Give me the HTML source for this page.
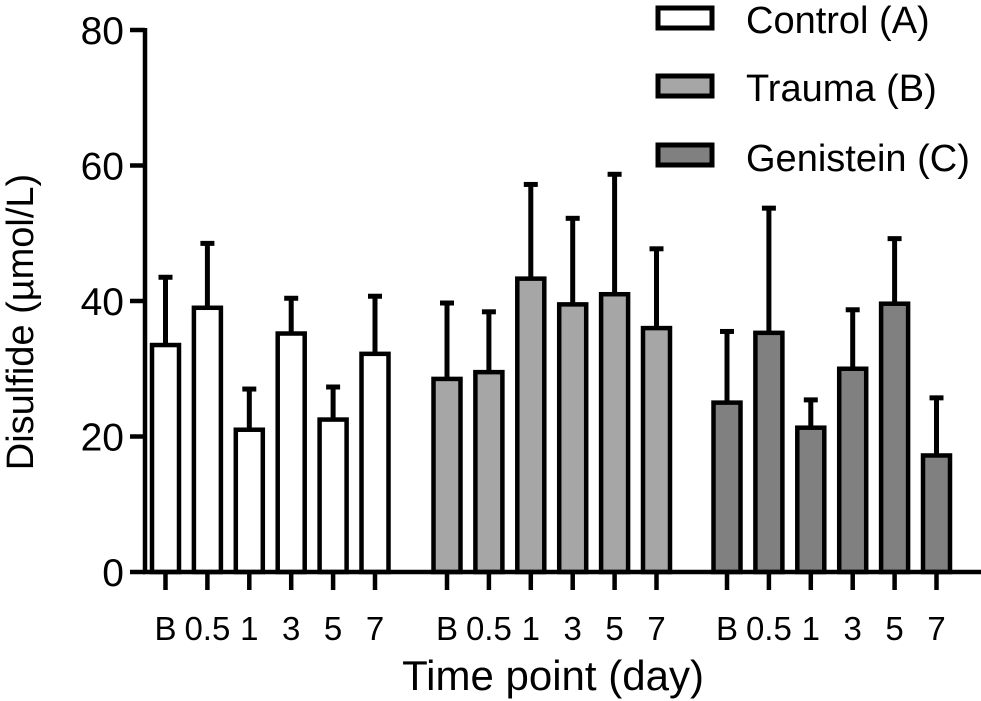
<!DOCTYPE html>
<html><head><meta charset="utf-8"><style>
body{margin:0;background:#fff}
svg{display:block;font-family:"Liberation Sans",sans-serif}
</style></head><body>
<svg id="chart" width="981" height="701" viewBox="0 0 981 701">
<g id="plot"></g>
<g>
 <rect x="658" y="8" width="54" height="20" fill="#fff" stroke="#000" stroke-width="5"/>
 <text x="746" y="33" font-size="38">Control (A)</text>
 <rect x="658" y="76" width="54" height="20" fill="#a6a6a6" stroke="#000" stroke-width="5"/>
 <text x="746" y="101" font-size="38">Trauma (B)</text>
 <rect x="658" y="145" width="54" height="20" fill="#808080" stroke="#000" stroke-width="5"/>
 <text x="746" y="171" font-size="38">Genistein (C)</text>
</g>
<text transform="translate(33,322) rotate(-90)" text-anchor="middle" font-size="38">Disulfide (µmol/L)</text>
<text x="553" y="690" text-anchor="middle" font-size="42">Time point (day)</text>
</svg>
<script>
const timeLabels=["B","0.5","1","3","5","7"];
const controlMeans=[33.5,39,21,35.2,22.5,32.2];
const controlTops=[43.8,48.8,27.3,40.7,27.6,41];
const traumaMeans=[28.5,29.5,43.3,39.5,41,36];
const traumaTops=[40,38.7,57.5,52.5,59,48];
const genisteinMeans=[25,35.3,21.3,30,39.6,17.2];
const genisteinTops=[35.8,54,25.7,39,49.5,26];
const yTicks=[0,20,40,60,80];
const NS="http://www.w3.org/2000/svg";
const g=document.getElementById('plot');
const y0=572,yTop=30,yMax=80;
function y(v){return y0-(v/yMax)*(y0-yTop);}
const groupStarts=[165.5,447,727],step=41.9,bw=27;
function x(gi,i){return groupStarts[gi]+i*step;}
function mk(t,a){const e=document.createElementNS(NS,t);for(const k in a)e.setAttribute(k,a[k]);g.appendChild(e);return e;}
const groups=[[controlMeans,controlTops,"#fff","control"],[traumaMeans,traumaTops,"#a6a6a6","trauma"],[genisteinMeans,genisteinTops,"#808080","genistein"]];
groups.forEach((gr,gi)=>{
 gr[0].forEach((v,i)=>{
  const cx=x(gi,i);
  const el=mk('line',{x1:cx,x2:cx,y1:y(v),y2:y(gr[1][i]),stroke:"#000","stroke-width":5});
  
  
  const cap=mk('line',{x1:cx-7,x2:cx+7,y1:y(gr[1][i])+2,y2:y(gr[1][i])+2,stroke:"#000","stroke-width":5});
  
  
  const r=mk('rect',{x:cx-bw/2,y:y(v),width:bw,height:y0-y(v),fill:gr[2],stroke:"#000","stroke-width":4.5});
  
  
  const tk=mk('line',{x1:cx,x2:cx,y1:y0,y2:590,stroke:"#000","stroke-width":4.5});
  
  
  const t=mk('text',{x:cx,y:640,"text-anchor":"middle","font-size":33});
  t.textContent=timeLabels[i];
  
  
 });
});
const ax=mk('line',{x1:145,x2:145,y1:28,y2:574,stroke:"#000","stroke-width":4.5});


const xa=mk('line',{x1:143,x2:981,y1:y0,y2:y0,stroke:"#000","stroke-width":4.5});


yTicks.forEach(v=>{
 const l=mk('line',{x1:130,x2:145,y1:y(v),y2:y(v),stroke:"#000","stroke-width":4.5});
 
 
 const t=mk('text',{x:124,y:y(v)+14,"text-anchor":"end","font-size":39});
 t.textContent=v;
 
 
});
</script>
</body></html>
